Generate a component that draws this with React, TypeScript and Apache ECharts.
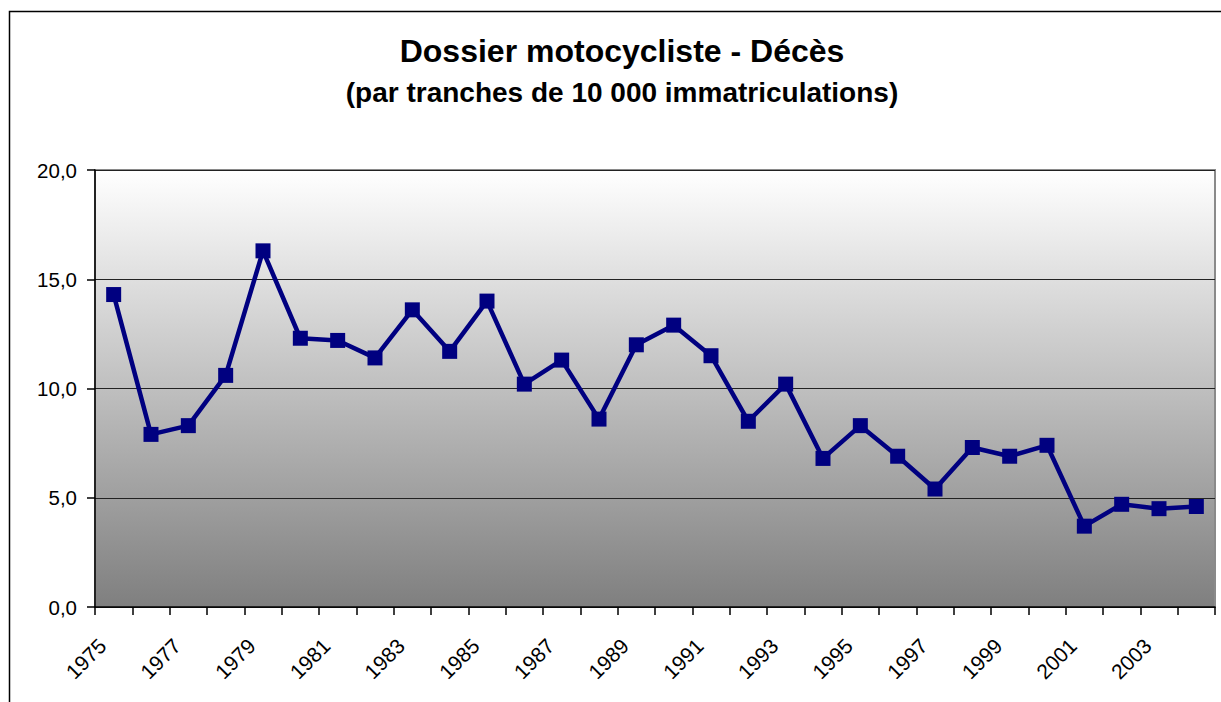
import React, { useEffect, useRef } from "react";
import * as echarts from "echarts";

const years: string[] = [
  "1975", "1976", "1977", "1978", "1979", "1980", "1981", "1982", "1983", "1984",
  "1985", "1986", "1987", "1988", "1989", "1990", "1991", "1992", "1993", "1994",
  "1995", "1996", "1997", "1998", "1999", "2000", "2001", "2002", "2003", "2004",
];

const deces: number[] = [
  14.3, 7.9, 8.3, 10.6, 16.3, 12.3, 12.2, 11.4, 13.6, 11.7,
  14.0, 10.2, 11.3, 8.6, 12.0, 12.9, 11.5, 8.5, 10.2, 6.8,
  8.3, 6.9, 5.4, 7.3, 6.9, 7.4, 3.7, 4.7, 4.5, 4.6,
];

const titleText = "Dossier motocycliste - Décès";
const subtitleText = "(par tranches de 10 000 immatriculations)";

const FONT = "'Liberation Sans', Arial, sans-serif";

export default function App() {
  const ref = useRef<HTMLDivElement>(null);

  useEffect(() => {
    if (!ref.current) return;
    const chart = echarts.init(ref.current, undefined, { renderer: "svg" });
    chart.setOption({
      animation: false,
      backgroundColor: "#ffffff",
      title: [
        {
          text: titleText,
          left: 617,
          textAlign: "center",
          top: 30,
          textStyle: { fontFamily: FONT, fontSize: 32, fontWeight: "bold", color: "#000" },
        },
        {
          text: subtitleText,
          left: 617,
          textAlign: "center",
          top: 73,
          textStyle: { fontFamily: FONT, fontSize: 28, fontWeight: "bold", color: "#000" },
        },
      ],
      graphic: [
        {
          type: "rect",
          shape: { x: 9.5, y: 11.5, width: 1400, height: 900 },
          style: { fill: "none", stroke: "#000", lineWidth: 1.5 },
          silent: true,
          z: -1,
        },
      ],
      grid: {
        left: 95,
        right: 6,
        top: 170,
        bottom: 95,
        show: true,
        borderColor: "#8a8a8a",
        borderWidth: 2,
        backgroundColor: new echarts.graphic.LinearGradient(0, 0, 0, 1, [
          { offset: 0, color: "#ffffff" },
          { offset: 1, color: "#7f7f7f" },
        ]),
      },
      xAxis: {
        type: "category",
        data: years,
        boundaryGap: true,
        axisLine: { show: true, lineStyle: { color: "#000", width: 1.5 } },
        axisTick: { show: true, interval: 0, length: 8, lineStyle: { color: "#000", width: 1.5 } },
        axisLabel: {
          interval: 1,
          rotate: 45,
          margin: 24,
          padding: [0, 16, 0, 0],
          fontFamily: FONT,
          fontSize: 21,
          color: "#000",
        },
        splitLine: { show: false },
      },
      yAxis: {
        type: "value",
        min: 0,
        max: 20,
        interval: 5,
        axisLine: { show: true, lineStyle: { color: "#000", width: 1.5 } },
        axisTick: { show: true, length: 8, lineStyle: { color: "#000", width: 1.5 } },
        axisLabel: {
          margin: 18,
          fontFamily: FONT,
          fontSize: 20.5,
          color: "#000",
          formatter: (v: number) => v.toFixed(1).replace(".", ","),
        },
        splitLine: { show: true, lineStyle: { color: "#222", width: 1 } },
      },
      series: [
        {
          type: "line",
          data: deces,
          symbol: "rect",
          symbolSize: 15,
          lineStyle: { color: "#000080", width: 4.5 },
          itemStyle: { color: "#000080" },
        },
      ],
    });
    return () => chart.dispose();
  }, []);

  return (
    <div
      ref={ref}
      style={{ position: "fixed", left: 0, top: 0, width: 1221, height: 702 }}
    />
  );
}
